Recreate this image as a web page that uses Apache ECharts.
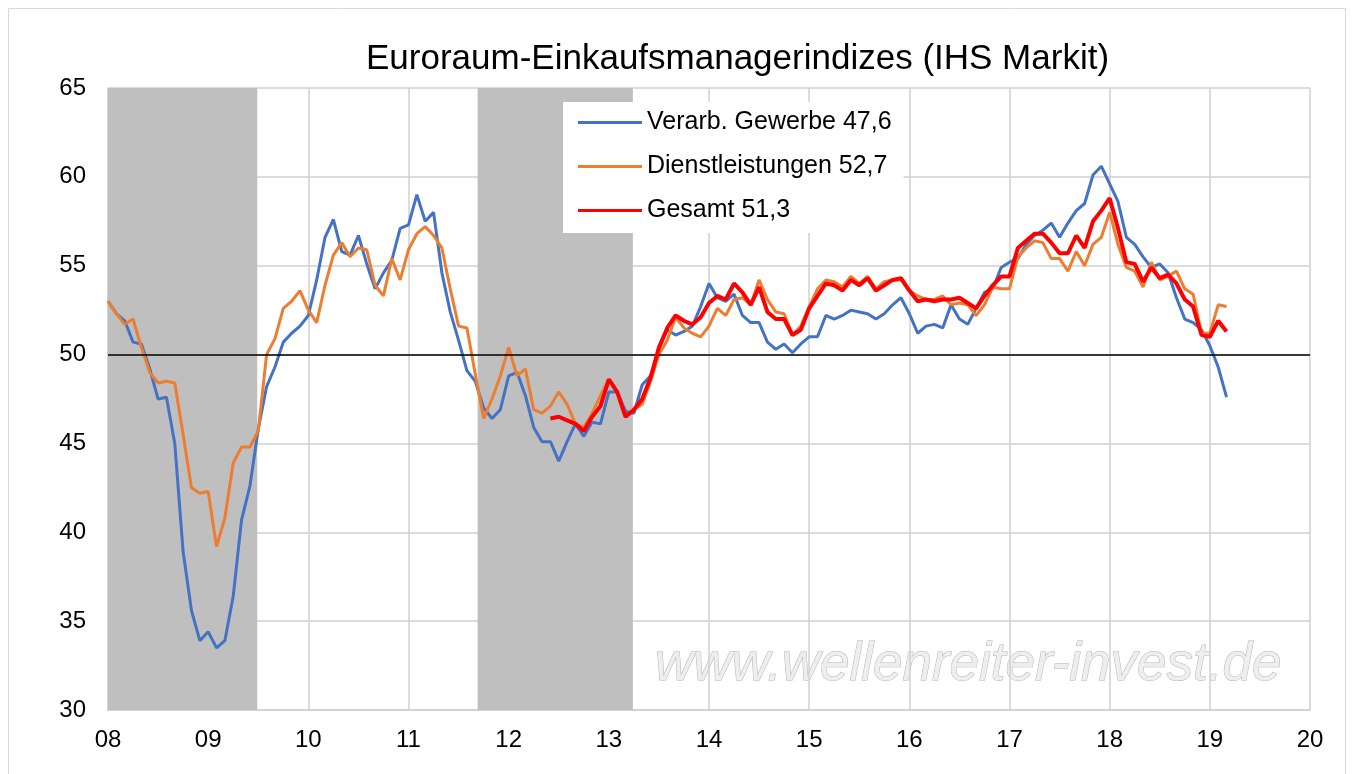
<!DOCTYPE html>
<html>
<head>
<meta charset="utf-8">
<script src="https://cdn.jsdelivr.net/npm/echarts@6/dist/echarts.min.js"></script>
<style>
  html, body { margin: 0; padding: 0; background: #fff; }
  #chart { width: 1354px; height: 774px; }
</style>
</head>
<body>
<div id="chart"></div>
<script>
// Monatswerte ab Jan 2008
const startYear = 2008;

const manufacturing = [
  53.0, 52.3, 51.9, 50.7, 50.6, 49.2, 47.5, 47.6, 45.0, 38.9, 35.6, 33.9,
  34.4, 33.5, 33.9, 36.4, 40.7, 42.6, 45.8, 48.2, 49.3, 50.7, 51.2, 51.6,
  52.2, 54.2, 56.6, 57.6, 55.8, 55.6, 56.7, 55.1, 53.7, 54.6, 55.3, 57.1,
  57.3, 59.0, 57.5, 58.0, 54.6, 52.4, 50.8, 49.1, 48.5, 47.0, 46.4, 46.9,
  48.8, 49.0, 47.7, 45.9, 45.1, 45.1, 44.0, 45.1, 46.1, 45.4, 46.2, 46.1,
  47.9, 47.9, 46.8, 46.7, 48.3, 48.8, 50.3, 51.4, 51.1, 51.3, 51.6, 52.7,
  54.0, 53.2, 53.0, 53.4, 52.2, 51.8, 51.8, 50.7, 50.3, 50.6, 50.1, 50.6,
  51.0, 51.0, 52.2, 52.0, 52.2, 52.5, 52.4, 52.3, 52.0, 52.3, 52.8, 53.2,
  52.3, 51.2, 51.6, 51.7, 51.5, 52.8, 52.0, 51.7, 52.6, 53.5, 53.7, 54.9,
  55.2, 55.4, 56.2, 56.7, 57.0, 57.4, 56.6, 57.4, 58.1, 58.5, 60.1, 60.6,
  59.6, 58.6, 56.6, 56.2, 55.5, 54.9, 55.1, 54.6, 53.2, 52.0, 51.8, 51.4,
  50.5, 49.3, 47.6
];

const services = [
  53.0, 52.3, 51.7, 52.0, 50.4, 49.0, 48.4, 48.5, 48.4, 45.5, 42.5, 42.2,
  42.3, 39.2, 40.8, 43.9, 44.8, 44.8, 45.7, 50.0, 50.9, 52.6, 53.0, 53.6,
  52.5, 51.8, 53.9, 55.6, 56.3, 55.5, 56.0, 55.9, 53.9, 53.3, 55.4, 54.2,
  55.9, 56.8, 57.2, 56.7, 56.0, 53.7, 51.6, 51.5, 48.9, 46.4, 47.5, 48.8,
  50.4, 48.8, 49.2, 46.9, 46.7, 47.1, 47.9, 47.2, 46.1, 45.9, 46.7, 47.7,
  48.6, 47.9, 46.5, 46.9, 47.2, 48.5, 50.0, 50.8, 52.1, 51.5, 51.2, 51.0,
  51.6, 52.6, 52.2, 53.1, 53.2, 52.8, 54.2, 53.1, 52.4, 52.3, 51.1, 51.6,
  52.7, 53.7, 54.2, 54.1, 53.8, 54.4, 54.0, 54.4, 53.7, 54.1, 54.2, 54.2,
  53.6, 53.3, 53.1, 53.1, 53.3, 52.8, 52.9, 52.8, 52.2, 52.8, 53.8, 53.7,
  53.7, 55.5, 56.0, 56.4, 56.3, 55.4, 55.4, 54.7, 55.8, 55.0, 56.2, 56.6,
  58.0, 56.2, 54.9, 54.7, 53.8, 55.2, 54.2, 54.4, 54.7, 53.7, 53.4, 51.2,
  51.2, 52.8, 52.7
];

// Gesamt ab Juni 2012
const compositeStart = 53;
const composite = [
                                46.4, 46.5, 46.3, 46.1, 45.7, 46.5, 47.1,
  48.6, 47.9, 46.5, 46.9, 47.5, 48.7, 50.4, 51.5, 52.2, 51.9, 51.7, 52.1,
  52.9, 53.3, 53.1, 54.0, 53.5, 52.8, 53.8, 52.4, 52.0, 52.0, 51.1, 51.4,
  52.6, 53.3, 54.0, 53.9, 53.6, 54.2, 53.9, 54.3, 53.6, 53.9, 54.2, 54.3,
  53.6, 53.0, 53.1, 53.0, 53.1, 53.1, 53.2, 52.9, 52.6, 53.3, 53.9, 54.4,
  54.4, 56.0, 56.4, 56.8, 56.8, 56.3, 55.7, 55.7, 56.7, 56.0, 57.5, 58.1,
  58.8, 57.1, 55.2, 55.1, 54.1, 54.9, 54.3, 54.5, 54.0, 53.1, 52.7, 51.1,
  51.0, 51.9, 51.3
];

// graue Phasen (Rezession)
const shadedRanges = [[2008, 2009.49], [2011.69, 2013.24]];

const seriesNames = ["Verarb. Gewerbe", "Dienstleistungen", "Gesamt"];

function toPoints(values, offset) {
  return values.map((v, i) => [startYear + (i + offset) / 12, v]);
}
function lastLabel(name, values) {
  return name + " " + values[values.length - 1].toFixed(1).replace(".", ",");
}

const font = "'Liberation Sans', Arial, sans-serif";
const chart = echarts.init(document.getElementById("chart"));

const names = [
  lastLabel(seriesNames[0], manufacturing),
  lastLabel(seriesNames[1], services),
  lastLabel(seriesNames[2], composite),
];

const option = {
  animation: false,
  backgroundColor: "#fff",
  textStyle: { fontFamily: font },
  title: {
    text: "Euroraum-Einkaufsmanagerindizes (IHS Markit)",
    left: 366,
    top: 42,
    padding: 0,
    textStyle: { fontFamily: font, fontSize: 35, fontWeight: "normal", color: "#000" },
  },
  legend: {
    data: names,
    orient: "vertical",
    left: 563,
    top: 102,
    padding: [8, 12, 10, 15],
    itemGap: 19,
    itemWidth: 64,
    itemHeight: 3,
    icon: "rect",
    backgroundColor: "#fff",
    textStyle: { fontFamily: font, fontSize: 25, color: "#000" },
  },
  grid: { left: 108, right: 44, top: 88, bottom: 64 },
  xAxis: {
    type: "value",
    min: 2008,
    max: 2020,
    interval: 1,
    axisLine: { show: true, lineStyle: { color: "#d0d0d0", width: 1.5 } },
    axisTick: { show: false },
    axisLabel: {
      margin: 18,
      fontSize: 24,
      color: "#000",
      fontFamily: font,
      formatter: (v) => String(v % 100).padStart(2, "0"),
    },
    splitLine: { show: true, lineStyle: { color: "#d0d0d0", width: 1.5 } },
  },
  yAxis: {
    type: "value",
    min: 30,
    max: 65,
    interval: 5,
    axisLine: { show: true, lineStyle: { color: "#d0d0d0", width: 1.5 } },
    axisTick: { show: false },
    axisLabel: { margin: 22, fontSize: 24, color: "#000", fontFamily: font },
    splitLine: { show: true, lineStyle: { color: "#d0d0d0", width: 1.5 } },
  },
  graphic: [
    {
      type: "rect",
      shape: { x: 8.5, y: 8.5, width: 1337, height: 800 },
      style: { fill: "none", stroke: "#d9d9d9", lineWidth: 1 },
      silent: true,
    },
    {
      type: "text",
      x: 655,
      y: 665,
      z: 0,
      silent: true,
      style: {
        text: "www.wellenreiter-invest.de",
        font: "italic 53px " + font,
        fill: "#eeeeee",
        stroke: "#b3b3b3",
        lineWidth: 1,
        verticalAlign: "middle",
        align: "left",
      },
    },
  ],
  series: [
    {
      // nur Hintergrund: graue Phasen und 50er-Linie
      type: "line",
      data: [],
      z: 1,
      silent: true,
      markArea: {
        silent: true,
        itemStyle: { color: "#bfbfbf" },
        data: shadedRanges.map((r) => [{ xAxis: r[0] }, { xAxis: r[1] }]),
      },
      markLine: {
        silent: true,
        symbol: "none",
        label: { show: false },
        lineStyle: { color: "#000", width: 1.5, type: "solid" },
        data: [{ yAxis: 50 }],
      },
    },
    {
      name: names[0],
      type: "line",
      data: toPoints(manufacturing, 0),
      showSymbol: false,
      z: 3,
      color: "#4472C4",
      lineStyle: { width: 3, color: "#4472C4" },
    },
    {
      name: names[1],
      type: "line",
      data: toPoints(services, 0),
      showSymbol: false,
      z: 4,
      color: "#ED7D31",
      lineStyle: { width: 3, color: "#ED7D31" },
    },
    {
      name: names[2],
      type: "line",
      data: toPoints(composite, compositeStart),
      showSymbol: false,
      z: 5,
      color: "#FF0000",
      lineStyle: { width: 4, color: "#FF0000" },
    },
  ],
};

chart.setOption(option);
</script>
</body>
</html>
